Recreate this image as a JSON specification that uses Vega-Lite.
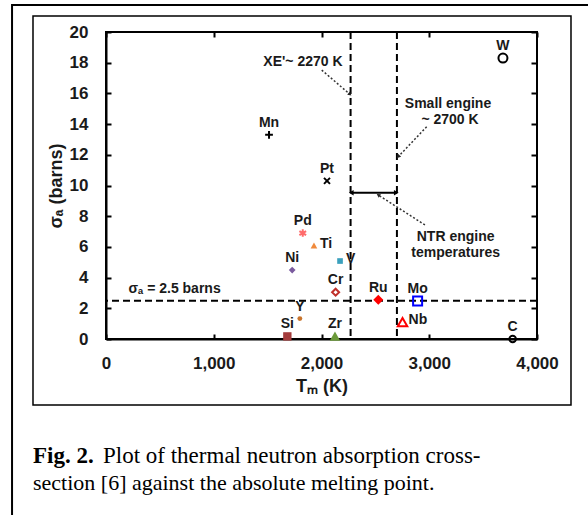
{
  "$schema": "https://vega.github.io/schema/vega-lite/v6.json",
  "width": 431,
  "height": 307,
  "autosize": {"type": "none"},
  "padding": {"left": 106, "top": 32, "right": 51, "bottom": 176},
  "background": "white",
  "config": {
    "view": {"stroke": "black", "strokeWidth": 2},
    "font": "Liberation Sans"
  },
  "datasets": {
    "elements": [
      {"el": "Si", "T": 1683, "sigma": 0.17},
      {"el": "Mn", "T": 1513, "sigma": 13.3},
      {"el": "Ni", "T": 1728, "sigma": 4.49},
      {"el": "Y", "T": 1799, "sigma": 1.33},
      {"el": "Pd", "T": 1826, "sigma": 6.9},
      {"el": "Ti", "T": 1930, "sigma": 6.09},
      {"el": "Pt", "T": 2051, "sigma": 10.3},
      {"el": "Zr", "T": 2125, "sigma": 0.185},
      {"el": "Cr", "T": 2131, "sigma": 3.05},
      {"el": "V", "T": 2172, "sigma": 5.08},
      {"el": "Ru", "T": 2527, "sigma": 2.56},
      {"el": "Nb", "T": 2752, "sigma": 1.1},
      {"el": "Mo", "T": 2892, "sigma": 2.48},
      {"el": "W", "T": 3684, "sigma": 18.3},
      {"el": "C", "T": 3774, "sigma": 0.0035}
    ],
    "temps": [{"T": 2270}, {"T": 2700}],
    "limit": [{"sigma": 2.5}],
    "bar": [{"T1": 2270, "T2": 2700, "s": 9.53}],
    "notes": [
      {"text": "XE'~ 2270 K", "T": 1828, "sigma": 18.05},
      {"text": "Small engine", "T": 3174, "sigma": 15.31},
      {"text": "~ 2700 K", "T": 3193, "sigma": 14.27},
      {"text": "NTR engine", "T": 3245, "sigma": 6.63},
      {"text": "temperatures", "T": 3245, "sigma": 5.58},
      {"text": "σₐ = 2.5 barns", "T": 636, "sigma": 3.24}
    ],
    "arrows": [
      {"T1": 2002, "s1": 17.52, "T2": 2264, "s2": 15.94},
      {"T1": 2976, "s1": 13.83, "T2": 2713, "s2": 11.88},
      {"T1": 2960, "s1": 7.43, "T2": 2527, "s2": 9.38}
    ],
    "heads": [
      {"T": 2264, "s": 15.94, "heading": 130.6, "kind": "dot"},
      {"T": 2713, "s": 11.88, "heading": 223.5, "kind": "dot"},
      {"T": 2527, "s": 9.38, "heading": 302.7, "kind": "dot"},
      {"T": 2276, "s": 9.53, "heading": 270, "kind": "bar"},
      {"T": 2694, "s": 9.53, "heading": 90, "kind": "bar"}
    ]
  },
  "resolve": {"axis": {"x": "independent", "y": "independent"}},
  "layer": [
    {
      "data": {"values": [{}]},
      "mark": {"type": "rect", "filled": false, "color": "black", "strokeWidth": 2, "clip": false},
      "encoding": {
        "x": {"datum": -872, "type": "quantitative", "scale": {"domain": [0, 4000], "nice": false}, "axis": null},
        "x2": {"datum": 4800},
        "y": {"datum": 21.76, "type": "quantitative", "scale": {"domain": [0, 20], "nice": false}, "axis": null},
        "y2": {"datum": -20}
      }
    },
    {
      "data": {"values": [{}]},
      "mark": {"type": "rect", "filled": false, "color": "black", "strokeWidth": 1.5, "clip": false},
      "encoding": {
        "x": {"datum": -677.5, "type": "quantitative", "scale": {"domain": [0, 4000], "nice": false}, "axis": null},
        "x2": {"datum": 4315.5},
        "y": {"datum": 21.04, "type": "quantitative", "scale": {"domain": [0, 20], "nice": false}, "axis": null},
        "y2": {"datum": -4.3}
      }
    },
    {
      "data": {"values": [{}]},
      "mark": {"type": "text", "text": "Fig. 2.", "font": "Liberation Serif", "fontSize": 23, "fontWeight": "bold", "align": "left", "baseline": "alphabetic", "color": "black", "clip": false},
      "encoding": {
        "x": {"datum": -677.5, "type": "quantitative", "scale": {"domain": [0, 4000], "nice": false}, "axis": null},
        "y": {"datum": -8.1, "type": "quantitative", "scale": {"domain": [0, 20], "nice": false}, "axis": null}
      }
    },
    {
      "data": {"values": [{}]},
      "mark": {"type": "text", "text": "Plot of thermal neutron absorption cross-", "font": "Liberation Serif", "fontSize": 23, "align": "left", "baseline": "alphabetic", "dx": 70, "color": "black", "clip": false},
      "encoding": {
        "x": {"datum": -677.5, "type": "quantitative", "scale": {"domain": [0, 4000], "nice": false}, "axis": null},
        "y": {"datum": -8.1, "type": "quantitative", "scale": {"domain": [0, 20], "nice": false}, "axis": null}
      }
    },
    {
      "data": {"values": [{}]},
      "mark": {"type": "text", "text": "section [6] against the absolute melting point.", "font": "Liberation Serif", "fontSize": 22, "align": "left", "baseline": "alphabetic", "color": "black", "clip": false},
      "encoding": {
        "x": {"datum": -677.5, "type": "quantitative", "scale": {"domain": [0, 4000], "nice": false}, "axis": null},
        "y": {"datum": -9.84, "type": "quantitative", "scale": {"domain": [0, 20], "nice": false}, "axis": null}
      }
    },
    {
      "data": {"name": "temps"},
      "mark": {"type": "rule", "color": "black", "strokeWidth": 2, "strokeDash": [7, 4]},
      "encoding": {
        "x": {"field": "T", "type": "quantitative", "scale": {"domain": [0, 4000], "nice": false},
          "axis": {"orient": "top", "labels": false, "title": null, "values": [0, 1000, 2000, 3000, 4000], "tickSize": -5, "tickWidth": 2, "tickColor": "black", "domain": false, "grid": false}}
      }
    },
    {
      "data": {"name": "limit"},
      "mark": {"type": "rule", "color": "black", "strokeWidth": 2, "strokeDash": [7, 4]},
      "encoding": {
        "y": {"field": "sigma", "type": "quantitative", "scale": {"domain": [0, 20], "nice": false},
          "axis": {"orient": "right", "labels": false, "title": null, "values": [0, 2, 4, 6, 8, 10, 12, 14, 16, 18, 20], "tickSize": -6, "tickWidth": 2, "tickColor": "black", "domain": false, "grid": false}}
      }
    },
    {
      "data": {"name": "bar"},
      "mark": {"type": "rule", "color": "black", "strokeWidth": 2},
      "encoding": {
        "x": {"field": "T1", "type": "quantitative", "scale": {"domain": [0, 4000], "nice": false}, "axis": null},
        "x2": {"field": "T2"},
        "y": {"field": "s", "type": "quantitative", "scale": {"domain": [0, 20], "nice": false}, "axis": null}
      }
    },
    {
      "data": {"name": "arrows"},
      "mark": {"type": "rule", "color": "#333333", "strokeWidth": 1.5, "strokeDash": [2, 2]},
      "encoding": {
        "x": {"field": "T1", "type": "quantitative", "scale": {"domain": [0, 4000], "nice": false}, "axis": null},
        "x2": {"field": "T2"},
        "y": {"field": "s1", "type": "quantitative", "scale": {"domain": [0, 20], "nice": false}, "axis": null},
        "y2": {"field": "s2"}
      }
    },
    {
      "data": {"name": "heads"},
      "transform": [{"filter": {"field": "kind", "equal": "dot"}}],
      "mark": {"type": "point", "shape": "triangle-up", "filled": true, "opacity": 1, "color": "#222222", "size": 18},
      "encoding": {
        "x": {"field": "T", "type": "quantitative", "scale": {"domain": [0, 4000], "nice": false}, "axis": null},
        "y": {"field": "s", "type": "quantitative", "scale": {"domain": [0, 20], "nice": false}, "axis": null},
        "angle": {"field": "heading", "type": "quantitative", "scale": null}
      }
    },
    {
      "data": {"name": "heads"},
      "transform": [{"filter": {"field": "kind", "equal": "bar"}}],
      "mark": {"type": "point", "shape": "triangle-up", "filled": true, "opacity": 1, "color": "#000000", "size": 30},
      "encoding": {
        "x": {"field": "T", "type": "quantitative", "scale": {"domain": [0, 4000], "nice": false}, "axis": null},
        "y": {"field": "s", "type": "quantitative", "scale": {"domain": [0, 20], "nice": false}, "axis": null},
        "angle": {"field": "heading", "type": "quantitative", "scale": null}
      }
    },
    {
      "data": {"name": "notes"},
      "mark": {"type": "text", "font": "Liberation Sans", "fontSize": 14, "fontWeight": "bold", "color": "#1a1a1a", "align": "center", "baseline": "middle"},
      "encoding": {
        "x": {"field": "T", "type": "quantitative", "scale": {"domain": [0, 4000], "nice": false}, "axis": null},
        "y": {"field": "sigma", "type": "quantitative", "scale": {"domain": [0, 20], "nice": false}, "axis": null},
        "text": {"field": "text"}
      }
    },
    {
      "data": {"name": "elements"},
      "transform": [{"filter": {"field": "el", "oneOf": ["Si", "Ni", "Y", "Ti", "Zr", "V", "Ru"]}}],
      "mark": {"type": "point", "filled": true, "opacity": 1, "clip": false},
      "encoding": {
        "x": {"field": "T", "type": "quantitative", "scale": {"domain": [0, 4000], "nice": false},
          "axis": {"orient": "bottom", "values": [0, 1000, 2000, 3000, 4000], "format": ",d", "labelFlush": false, "labelFont": "Liberation Sans", "labelFontSize": 17, "labelFontWeight": "bold", "labelColor": "#1a1a1a", "labelPadding": 21, "tickSize": -5, "tickWidth": 2, "tickColor": "black", "domainColor": "black", "domainWidth": 2, "grid": false,
            "title": "Tₘ (K)", "titleFont": "Liberation Sans", "titleFontSize": 18, "titleFontWeight": "bold", "titleColor": "#1a1a1a", "titlePadding": 6}},
        "y": {"field": "sigma", "type": "quantitative", "scale": {"domain": [0, 20], "nice": false},
          "axis": {"orient": "left", "values": [0, 2, 4, 6, 8, 10, 12, 14, 16, 18, 20], "labelFont": "Liberation Sans", "labelFontSize": 17, "labelFontWeight": "bold", "labelColor": "#1a1a1a", "labelPadding": 23, "tickSize": -5, "tickWidth": 2, "tickColor": "black", "domainColor": "black", "domainWidth": 2, "grid": false, "labelOverlap": false,
            "title": "σₐ (barns)", "titleFont": "Liberation Sans", "titleFontSize": 18, "titleFontWeight": "bold", "titleColor": "#1a1a1a", "titlePadding": 4}},
        "shape": {"field": "el", "type": "nominal", "legend": null,
          "scale": {"domain": ["Si", "Mn", "Ni", "Y", "Pd", "Ti", "Pt", "Zr", "Cr", "V", "Ru", "Nb", "Mo", "W", "C"],
            "range": ["square", "M-1,0H1M0,-1V1", "diamond", "circle", "M-0.9,-0.55L0.9,0.55M0.9,-0.55L-0.9,0.55M0,-1V1", "triangle-up", "M-1,-1L1,1M1,-1L-1,1", "triangle-up", "diamond", "square", "diamond", "triangle-up", "square", "circle", "circle"]}},
        "color": {"field": "el", "type": "nominal", "legend": null,
          "scale": {"domain": ["Si", "Mn", "Ni", "Y", "Pd", "Ti", "Pt", "Zr", "Cr", "V", "Ru", "Nb", "Mo", "W", "C"],
            "range": ["#a33b3b", "#000000", "#7a5a9e", "#c8742c", "#ff6b6b", "#f08a3c", "#000000", "#6b9a3a", "#c0302a", "#3aa0bd", "#ff0000", "#ff0000", "#0000ff", "#000000", "#000000"]}},
        "size": {"field": "el", "type": "nominal", "legend": null,
          "scale": {"type": "ordinal", "domain": ["Si", "Mn", "Ni", "Y", "Pd", "Ti", "Pt", "Zr", "Cr", "V", "Ru", "Nb", "Mo", "W", "C"],
            "range": [70, 60, 45, 24, 56, 45, 36, 110, 49, 32, 100, 90, 81, 81, 42]}}
      }
    },
    {
      "data": {"name": "elements"},
      "transform": [{"filter": {"field": "el", "oneOf": ["Mn", "Pd", "Pt", "Cr", "Nb", "Mo", "W", "C"]}}],
      "mark": {"type": "point", "filled": false, "opacity": 1, "strokeWidth": 2, "clip": false},
      "encoding": {
        "x": {"field": "T", "type": "quantitative", "scale": {"domain": [0, 4000], "nice": false}, "axis": null},
        "y": {"field": "sigma", "type": "quantitative", "scale": {"domain": [0, 20], "nice": false}, "axis": null},
        "shape": {"field": "el", "type": "nominal", "legend": null},
        "color": {"field": "el", "type": "nominal", "legend": null},
        "size": {"field": "el", "type": "nominal", "legend": null,
          "scale": {"type": "ordinal", "domain": ["Si", "Mn", "Ni", "Y", "Pd", "Ti", "Pt", "Zr", "Cr", "V", "Ru", "Nb", "Mo", "W", "C"],
            "range": [70, 60, 45, 24, 56, 45, 36, 110, 49, 32, 100, 90, 81, 81, 42]}}
      }
    },
    {
      "data": {"name": "elements"},
      "transform": [{"filter": {"field": "el", "oneOf": ["Si", "Mn", "Ni", "Y", "Pd", "Pt", "Zr", "Cr", "Ru", "Mo", "W", "C"]}}],
      "mark": {"type": "text", "font": "Liberation Sans", "fontSize": 14, "fontWeight": "bold", "color": "#1a1a1a", "align": "center", "baseline": "middle", "dy": -12},
      "encoding": {
        "x": {"field": "T", "type": "quantitative", "scale": {"domain": [0, 4000], "nice": false}, "axis": null},
        "y": {"field": "sigma", "type": "quantitative", "scale": {"domain": [0, 20], "nice": false}, "axis": null},
        "text": {"field": "el"}
      }
    },
    {
      "data": {"name": "elements"},
      "transform": [{"filter": {"field": "el", "oneOf": ["Ti", "V", "Nb"]}}],
      "mark": {"type": "text", "font": "Liberation Sans", "fontSize": 14, "fontWeight": "bold", "color": "#1a1a1a", "align": "left", "baseline": "middle", "dx": 6, "dy": -2},
      "encoding": {
        "x": {"field": "T", "type": "quantitative", "scale": {"domain": [0, 4000], "nice": false}, "axis": null},
        "y": {"field": "sigma", "type": "quantitative", "scale": {"domain": [0, 20], "nice": false}, "axis": null},
        "text": {"field": "el"}
      }
    }
  ]
}
